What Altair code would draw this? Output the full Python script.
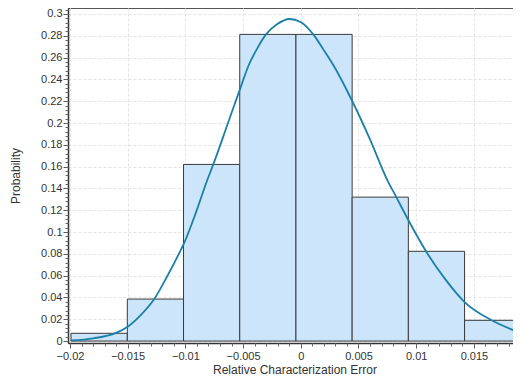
import altair as alt
import pandas as pd

# Histogram bins (edges) and probabilities
bin_start = [-0.01991, -0.01503, -0.01016, -0.00529, -0.00042, 0.00445, 0.00932, 0.01419]
bin_end = [-0.01503, -0.01016, -0.00529, -0.00042, 0.00445, 0.00932, 0.01419, 0.01906]
prob = [0.0071, 0.0385, 0.162, 0.2813, 0.2813, 0.132, 0.0823, 0.019]

# Fitted density curve
curve_x = [-0.019913, -0.017981, -0.016101, -0.015, -0.013848, -0.012695, -0.011594,
           -0.010468, -0.010121, -0.009081, -0.008102, -0.007582, -0.006308, -0.005243,
           -0.004506, -0.003795, -0.003016, -0.002062, -0.000997, 0.000017, 0.001083,
           0.001924, 0.002816, 0.004411, 0.005997, 0.007496, 0.008276, 0.009316,
           0.010850, 0.012496, 0.014168, 0.016543, 0.019021]
curve_y = [0.0005, 0.0025, 0.007, 0.0131, 0.024, 0.0385, 0.059,
           0.082, 0.0896, 0.118, 0.1477, 0.162, 0.2, 0.2318,
           0.2532, 0.268, 0.2813, 0.2905, 0.2954, 0.2925, 0.2813,
           0.268, 0.2532, 0.2211, 0.185, 0.1477, 0.132, 0.111,
           0.0823, 0.057, 0.036, 0.019, 0.0076]

x_major = [-0.02, -0.015, -0.01, -0.005, 0, 0.005, 0.01, 0.015]
y_major = [0, 0.02, 0.04, 0.06, 0.08, 0.1, 0.12, 0.14, 0.16, 0.18, 0.2, 0.22, 0.24, 0.26, 0.28, 0.3]
x_minor = [round(-0.02 + i * 0.001, 4) for i in range(40)]
y_minor = [round(i * 0.004, 4) for i in range(77)]

bars = pd.DataFrame({"start": bin_start, "end": bin_end, "p": prob})
curve = pd.DataFrame({"x": curve_x, "y": curve_y})

xscale = alt.Scale(domain=[-0.02017, 0.01908], nice=False, zero=False)
yscale = alt.Scale(domain=[-0.0018, 0.3055], nice=False, zero=False)

lab = dict(labelFont="Liberation Sans", labelFontSize=11, labelColor="#333333",
           titleFont="Liberation Sans", titleFontSize=12, titleColor="#333333",
           titleFontWeight="normal")

bar_layer = alt.Chart(bars).mark_bar(
    color="#cce5fb", stroke="#3a3a3a", strokeWidth=1, opacity=1
).encode(
    x=alt.X("start:Q", scale=xscale, title="Relative Characterization Error",
            axis=alt.Axis(values=x_major, format="~g", tickSize=5, labelPadding=2,
                          domainColor="#333333", domainWidth=1.5, tickColor="#555555",
                          grid=True, gridColor="#e3e3e3", gridDash=[3, 2],
                          titlePadding=3, labelFlush=False, orient="bottom", **lab)),
    x2="end:Q",
    y=alt.Y("p:Q", scale=yscale, title="Probability",
            axis=alt.Axis(values=y_major, format="~g", tickSize=5, labelPadding=1,
                          domainColor="#333333", domainWidth=1.5, tickColor="#555555",
                          grid=True, gridColor="#e3e3e3", gridDash=[3, 2],
                          titlePadding=18, orient="left", **lab)),
    y2=alt.Y2(datum=0),
)

line_layer = alt.Chart(curve).mark_line(
    color="#1a80a8", strokeWidth=1.8, interpolate="monotone"
).encode(
    x=alt.X("x:Q", scale=xscale,
            axis=alt.Axis(values=x_minor, labels=False, title=None, domain=False,
                          grid=False, tickSize=3, tickColor="#666666", orient="bottom")),
    y=alt.Y("y:Q", scale=yscale,
            axis=alt.Axis(values=y_minor, labels=False, title=None, domain=False,
                          grid=False, tickSize=3, tickColor="#666666", orient="left")),
)

chart = alt.layer(bar_layer, line_layer).resolve_axis(
    x="independent", y="independent"
).properties(
    width=453, height=335,
    autosize=alt.AutoSizeParams(type="none"),
    padding={"left": 60, "top": 0, "right": -8, "bottom": 34},
    background="white",
).configure_view(stroke="#555555", strokeWidth=1)

chart.save("out.html", embed_options={"renderer": "svg", "actions": False})
